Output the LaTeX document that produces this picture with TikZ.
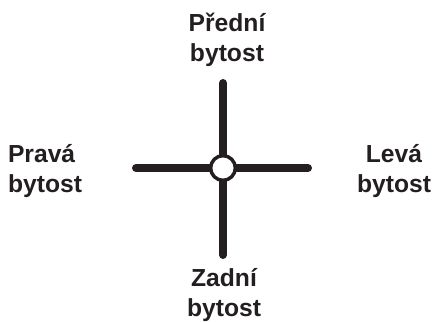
\documentclass[tikz,border=0pt]{standalone}
\usepackage{fontspec}
\setmainfont{Liberation Sans}
\begin{document}
\begin{tikzpicture}[x=0.75pt,y=-0.75pt,
  ink/.style={draw=inkc, line width=6pt, line cap=round},
  hub/.style={circle, draw=inkc, fill=white, line width=2.6pt, minimum size=18.5pt, inner sep=0pt},
  lbl/.style={text=inkc, font=\bfseries\fontsize{18.5}{22.2}\selectfont, inner sep=0pt, anchor=base}]
\definecolor{inkc}{HTML}{231F20}
\useasboundingbox (0,0) rectangle (433,322);
\coordinate (top) at (223,83);
\coordinate (bot) at (223,255);
\coordinate (lft) at (136,168);
\coordinate (rgt) at (308,168);
\draw[ink] (top) -- (bot);
\draw[ink] (lft) -- (rgt);
\node[hub] (c) at (223,168) {};
\node[lbl, align=center] (front) at (227,61) {Přední\hspace{5pt}\\bytost};
\node[lbl, align=left] (right) at (45,192) {Pravá\\bytost};
\node[lbl, align=center] (left) at (394,192) {Levá\hspace{4.5pt}\\bytost};
\node[lbl, align=center] (back) at (224,316) {Zadní\hspace{7.5pt}\\bytost};
\end{tikzpicture}
\end{document}
